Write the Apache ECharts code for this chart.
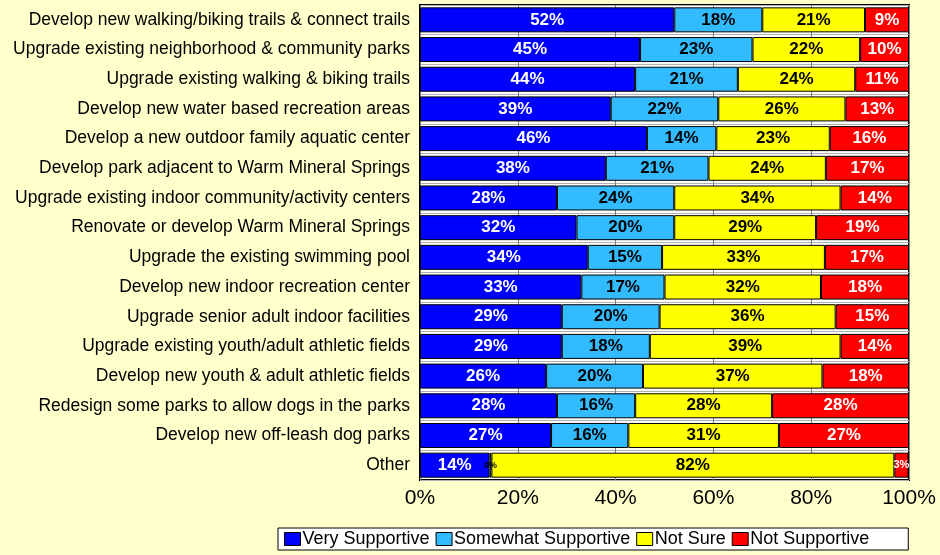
<!DOCTYPE html>
<html>
<head>
<meta charset="utf-8">
<script src="https://cdn.jsdelivr.net/npm/echarts@6/dist/echarts.min.js"></script>
<style>
html,body{margin:0;padding:0;background:#FFFFCC;}
#c{width:940px;height:555px;}
</style>
</head>
<body>
<div id="c"></div>
<script>
var categories = [
  "Develop new walking/biking trails & connect trails",
  "Upgrade existing neighborhood & community parks",
  "Upgrade existing walking & biking trails",
  "Develop new water based recreation areas",
  "Develop a new outdoor family aquatic center",
  "Develop park adjacent to Warm Mineral Springs",
  "Upgrade existing indoor community/activity centers",
  "Renovate or develop Warm Mineral Springs",
  "Upgrade the existing swimming pool",
  "Develop new indoor recreation center",
  "Upgrade senior adult indoor facilities",
  "Upgrade existing youth/adult athletic fields",
  "Develop new youth & adult athletic fields",
  "Redesign some parks to allow dogs in the parks",
  "Develop new off-leash dog parks",
  "Other"
];
var verySupportive     = [52, 45, 44, 39, 46.4, 38, 28, 32, 34.3, 33, 29, 29, 25.8, 28, 26.8, 14.2];
var somewhatSupportive = [18, 23, 21, 22, 14.2, 21, 24, 20, 15.2, 17, 20, 18, 19.8, 16, 15.8, 0.4];
var notSure            = [21, 22, 24, 26, 23.2, 24, 34, 29, 33.3, 32, 36, 39, 36.7, 28, 30.8, 82.4];
var notSupportive      = [9, 10, 11, 13, 16.2, 17, 14, 19, 17.2, 18, 15, 14, 17.7, 28, 26.6, 2.9];
var xTicks = [0, 20, 40, 60, 80, 100];

var chart = echarts.init(document.getElementById('c'));
function mk(name, data, color, textColor) {
  return {
    name: name,
    type: 'bar',
    stack: 'total',
    data: data,
    barWidth: 25,
    itemStyle: { color: color, borderColor: '#000', borderWidth: 1 },
    label: {
      show: true,
      position: 'inside',
      fontFamily: 'Liberation Sans, Arial, sans-serif',
      fontWeight: 'bold',
      fontSize: 17,
      color: textColor,
      formatter: function (p) { return Math.round(p.value) + '%'; }
    },
    emphasis: { disabled: true }
  };
}
var s1 = mk('Very Supportive', verySupportive, '#0000FF', '#fff');
var s2 = mk('Somewhat Supportive', somewhatSupportive, '#33BBFF', '#000');
var s3 = mk('Not Sure', notSure, '#FFFF00', '#000');
var s4 = mk('Not Supportive', notSupportive, '#FF0000', '#fff');
// small labels for tiny segments
s2.data = somewhatSupportive.map(function (v) {
  return v < 3 ? { value: v, label: { fontSize: 9 } } : v;
});
s4.data = notSupportive.map(function (v) {
  return v < 5 ? { value: v, label: { fontSize: 11 } } : v;
});

chart.setOption({
  backgroundColor: '#FFFFCC',
  animation: false,
  textStyle: { fontFamily: 'Liberation Sans, Arial, sans-serif' },
  grid: {
    left: 420, right: 31, top: 5, bottom: 75,
    show: true, backgroundColor: '#fff', borderColor: '#000', borderWidth: 2
  },
  legend: {
    top: 528,
    left: 278,
    backgroundColor: '#fff',
    borderColor: '#000',
    borderWidth: 1,
    padding: [2, 39, 2, 6],
    itemGap: 6,
    itemWidth: 16,
    itemHeight: 13,
    icon: 'rect',
    itemStyle: { borderColor: '#000', borderWidth: 1 },
    textStyle: { fontSize: 18, color: '#000', padding: [0, 0, 0, -3] },
    data: ['Very Supportive', 'Somewhat Supportive', 'Not Sure', 'Not Supportive']
  },
  xAxis: {
    type: 'value',
    min: xTicks[0],
    max: xTicks[xTicks.length - 1],
    interval: 20,
    axisLabel: { formatter: '{value}%', fontSize: 21, color: '#000', margin: 8 },
    axisLine: { show: false },
    axisTick: { show: false },
    splitLine: { show: true, lineStyle: { color: '#808080', width: 1 } }
  },
  yAxis: {
    type: 'category',
    inverse: true,
    data: categories,
    axisLabel: { fontSize: 17.5, color: '#000', margin: 10 },
    axisLine: { show: false },
    axisTick: { show: false },
    splitLine: { show: true, lineStyle: { color: '#b0b0b0', width: 1 } }
  },
  series: [s1, s2, s3, s4]
});
</script>
</body>
</html>
